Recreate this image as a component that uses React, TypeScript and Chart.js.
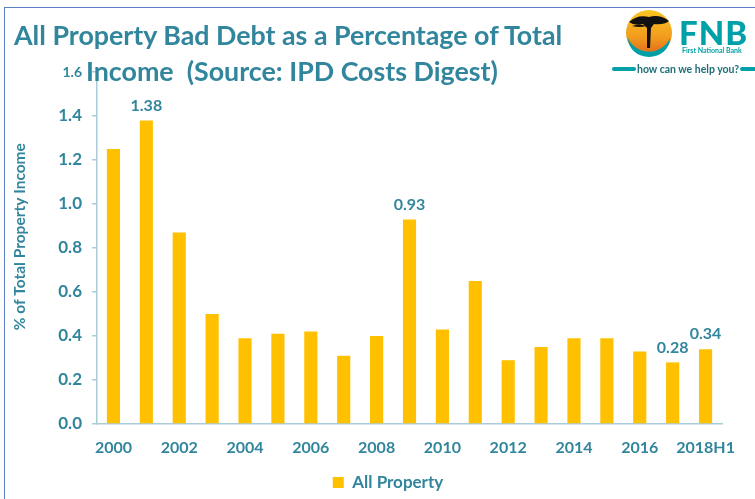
import React, { useEffect, useRef } from 'react';
import { Chart, registerables } from 'chart.js';

Chart.register(...registerables);

// ---- data ----
const categories = [
  '2000', '2001', '2002', '2003', '2004', '2005', '2006', '2007', '2008', '2009',
  '2010', '2011', '2012', '2013', '2014', '2015', '2016', '2017', '2018H1',
];
const allProperty = [
  1.25, 1.38, 0.87, 0.5, 0.39, 0.41, 0.42, 0.31, 0.4, 0.93,
  0.43, 0.65, 0.29, 0.35, 0.39, 0.39, 0.33, 0.28, 0.34,
];
const labelledIndices = [1, 9, 17, 18];
const yMin = 0;
const yMax = 1.6;
const yStep = 0.2;
const seriesName = 'All Property';
const titleLine1 = 'All Property Bad Debt as a Percentage of Total';
const titleLine2 = 'Income  (Source: IPD Costs Digest)';
const yAxisTitle = '% of Total Property Income';

// ---- styles ----
const TEAL = '#31859C';
const GOLD = '#FFC000';
const AXIS = '#A9CCD8';
const FONT = 'Lato';

const valueLabels = {
  id: 'valueLabels',
  afterDatasetsDraw(chart: any) {
    const meta = chart.getDatasetMeta(0);
    const ctx = chart.ctx;
    ctx.save();
    ctx.font = `bold 16px ${FONT}`;
    ctx.fillStyle = TEAL;
    ctx.textAlign = 'center';
    ctx.textBaseline = 'middle';
    labelledIndices.forEach((i) => {
      const el = meta.data[i];
      if (!el) return;
      ctx.fillText(allProperty[i].toFixed(2), el.x, el.y - 15);
    });
    ctx.restore();
  },
};

// shift the legend a little right of the canvas centre, as in the reference
const legendShift = {
  id: 'legendShift',
  afterLayout(chart: any) {
    const lg = chart.legend;
    if (lg) {
      lg.left += 27;
      lg.right += 27;
    }
  },
};

function Logo() {
  return (
    <div style={{ position: 'absolute', left: 610, top: 8, width: 145, height: 72 }}>
      <svg width="50" height="50" viewBox="0 0 50 50" style={{ position: 'absolute', left: 14, top: 0 }}>
        <defs>
          <linearGradient id="sun" x1="0" y1="0" x2="0" y2="1">
            <stop offset="0" stopColor="#F9C623" />
            <stop offset="0.6" stopColor="#F29A1E" />
            <stop offset="1" stopColor="#E0641A" />
          </linearGradient>
        </defs>
        <circle cx="25" cy="25" r="23" fill="url(#sun)" />
        <path d="M4 30 A23 23 0 0 0 46 30 A21 19 0 0 1 4 30 Z" fill="#009FA8" />
        <path d="M5 14 Q14 6 25 9 Q36 6 45 13 Q40 17 30 16 L27 20 L26 40 L23 40 L23 20 L19 16 Q10 18 5 14 Z" fill="#111" />
        <path d="M8 18 Q16 15 22 18 Q16 20 8 18 Z" fill="#111" />
      </svg>
      <div style={{ position: 'absolute', left: 69, top: 4, fontFamily: FONT, fontWeight: 900, fontSize: 33, color: '#00A0A8', letterSpacing: 1, lineHeight: '40px' }}>FNB</div>
      <div style={{ position: 'absolute', left: 72, top: 38, fontFamily: FONT, fontWeight: 700, fontSize: 7, color: '#00A0A8', whiteSpace: 'nowrap' }}>First National Bank</div>
      <div style={{ position: 'absolute', left: 2, top: 59, width: 24, height: 4, borderRadius: 2, background: '#00A0A8' }} />
      <div style={{ position: 'absolute', left: 27, top: 54, fontFamily: FONT, fontWeight: 700, fontSize: 10.5, color: '#1C6E77', whiteSpace: 'nowrap', lineHeight: '14px' }}>how can we help you?</div>
      <div style={{ position: 'absolute', left: 130, top: 59, width: 20, height: 4, borderRadius: 2, background: '#00A0A8' }} />
    </div>
  );
}

export default function App() {
  const canvasRef = useRef<HTMLCanvasElement | null>(null);

  useEffect(() => {
    if (!canvasRef.current) return;
    const chart = new Chart(canvasRef.current, {
      type: 'bar',
      data: {
        labels: categories,
        datasets: [
          {
            label: seriesName,
            data: allProperty,
            backgroundColor: GOLD,
            borderWidth: 0,
            barPercentage: 0.4,
            categoryPercentage: 1,
          },
        ],
      },
      options: {
        animation: false,
        responsive: false,
        layout: { padding: { top: 72, left: 0, right: 33, bottom: 0 } },
        plugins: {
          title: { display: false },
          tooltip: { enabled: false },
          legend: {
            position: 'bottom',
            maxHeight: 35,
            labels: {
              boxWidth: 11,
              boxHeight: 11,
              padding: 10,
              color: TEAL,
              font: { family: FONT, size: 17, weight: 'bold' },
            },
          },
        },
        scales: {
          x: {
            grid: { display: false, drawTicks: false },
            border: { color: AXIS, width: 1.5 },
            ticks: {
              autoSkip: false,
              maxRotation: 0,
              padding: 14,
              color: TEAL,
              font: { family: FONT, size: 16, weight: 'bold' },
              callback: (_v: any, i: number) => (i % 2 === 0 ? categories[i] : ''),
            },
            afterFit: (scale: any) => {
              scale.height = 40;
            },
          },
          y: {
            min: yMin,
            max: yMax,
            grid: { drawOnChartArea: false, drawTicks: true, tickLength: 5, color: AXIS, lineWidth: 1.5 },
            border: { color: AXIS, width: 1.5 },
            ticks: {
              stepSize: yStep,
              padding: 10,
              color: TEAL,
              font: (ctx: any) =>
                ctx.tick && Math.abs(ctx.tick.value - yMax) < 1e-6
                  ? { family: FONT, size: 14, weight: 'bold' }
                  : { family: FONT, size: 17, weight: 'bold' },
              callback: (v: any) => Number(v).toFixed(1),
            },
            title: {
              display: true,
              text: '      ' + yAxisTitle,
              color: TEAL,
              font: { family: FONT, size: 15.5, weight: 'bold' },
              padding: { top: 11, bottom: 0 },
            },
            afterFit: (scale: any) => {
              scale.width = 97;
            },
          },
        },
      },
      plugins: [valueLabels, legendShift],
    });
    return () => chart.destroy();
  }, []);

  const titleStyle: React.CSSProperties = {
    position: 'absolute',
    fontFamily: FONT,
    fontWeight: 700,
    fontSize: 26.8,
    color: TEAL,
    whiteSpace: 'pre',
    lineHeight: '32px',
  };

  return (
    <div style={{ position: 'absolute', left: 0, top: 0, width: 755, height: 499, background: '#fff', overflow: 'hidden' }}>
      <canvas ref={canvasRef} width={755} height={499} style={{ position: 'absolute', left: 0, top: 0 }} />
      <div style={{ position: 'absolute', left: 5, top: 7, right: 0, height: 0, borderTop: '1.5px solid #5B80C6' }} />
      <div style={{ position: 'absolute', left: 4, top: 7, bottom: 0, width: 0, borderLeft: '1.5px solid #5B80C6' }} />
      <div style={{ ...titleStyle, left: 14, top: 19 }}>{titleLine1}</div>
      <div style={{ ...titleStyle, left: 86, top: 55 }}>{titleLine2}</div>
      <Logo />
    </div>
  );
}
